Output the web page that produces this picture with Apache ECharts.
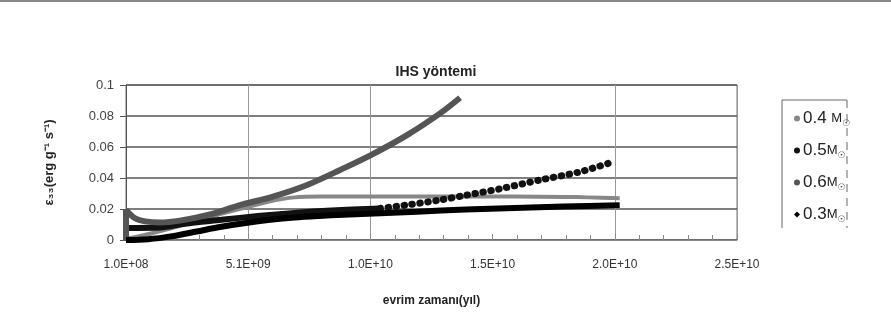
<!DOCTYPE html>
<html>
<head>
    <meta charset="utf-8">
    <title>IHS yöntemi</title>
    <script src="https://cdn.jsdelivr.net/npm/echarts@6/dist/echarts.min.js"></script>
    <style>
        html, body { margin: 0; padding: 0; background: #fff; }
        #main { width: 891px; height: 333px; }
    </style>
</head>
<body>
<div id="main"></div>
<script type="text/javascript">
    // values: [evrim zamanı (yıl), ε33]
    var m04 = [
        [1.0e8, 0.001], [5.0e8, 0.002], [1.2e9, 0.0045], [2.5e9, 0.010], [3.8e9, 0.016],
        [5.0e9, 0.021], [6.0e9, 0.025], [7.0e9, 0.0275], [8.0e9, 0.028], [1.0e10, 0.028],
        [1.2e10, 0.028], [1.4e10, 0.028], [1.6e10, 0.028], [1.8e10, 0.0278], [1.9e10, 0.0275],
        [2.03e10, 0.027]
    ];
    var m05 = [
        [1.0e8, 0.0077], [1.5e9, 0.008], [2.5e9, 0.0105], [4.0e9, 0.013], [5.5e9, 0.0155],
        [7.0e9, 0.0175], [8.5e9, 0.019], [1.05e10, 0.0204], [1.16e10, 0.0226], [1.295e10, 0.0258],
        [1.405e10, 0.029], [1.54e10, 0.033], [1.704e10, 0.0387], [1.868e10, 0.044], [2.0e10, 0.0503]
    ];
    var m06 = [
        [1.0e8, 0.0], [1.0e8, 0.0194], [4.7e8, 0.014], [8.8e8, 0.012], [1.49e9, 0.0113],
        [2.31e9, 0.0125], [3.54e9, 0.0165], [4.76e9, 0.0225], [6.11e9, 0.028], [7.51e9, 0.0355],
        [8.86e9, 0.0452], [1.012e10, 0.0548], [1.16e10, 0.0677], [1.295e10, 0.0817], [1.377e10, 0.0918]
    ];
    var m03 = [
        [1.0e8, 0.0], [1.0e9, 0.0005], [2.0e9, 0.0025], [3.0e9, 0.0055], [4.0e9, 0.0085],
        [5.0e9, 0.011], [6.0e9, 0.013], [7.0e9, 0.0145], [8.0e9, 0.0155], [9.0e9, 0.0163],
        [1.0e10, 0.017], [1.2e10, 0.0183], [1.4e10, 0.0196], [1.6e10, 0.0207], [1.8e10, 0.0216],
        [2.03e10, 0.0225]
    ];
    // 0.5 points are packed into a solid band before this age, separate dots after
    var denseUntil = 1.05e10;

    // 1.0E+08 style labels like excel
    function sci(v) {
        var parts = v.toExponential(1).toUpperCase().split('E');
        var sign = parts[1].charAt(0);
        var digits = parts[1].slice(1);
        if (digits.length < 2) digits = '0' + digits;
        return parts[0] + 'E' + sign + digits;
    }

    var myChart = echarts.init(document.getElementById('main'));

    var option = {
        backgroundColor: '#fff',
        animation: false,
        title: {
            text: 'IHS yöntemi',
            left: 431,
            top: 60,
            textAlign: 'center',
            textStyle: { fontFamily: 'Liberation Sans', fontWeight: 'bold', fontSize: 14, color: '#222' }
        },
        grid: {
            left: 126, top: 85, right: 154, bottom: 93,
            show: true, borderColor: '#777', borderWidth: 1
        },
        legend: {
            orient: 'vertical',
            left: 789,
            top: 105,
            itemWidth: 6,
            itemHeight: 6,
            itemGap: 14,
            data: [
                { name: '0.4', icon: 'circle', itemStyle: { color: '#888' } },
                { name: '0.5', icon: 'circle', itemStyle: { color: '#111' } },
                { name: '0.6', icon: 'circle', itemStyle: { color: '#555' } },
                { name: '0.3', icon: 'diamond', itemStyle: { color: '#000' } }
            ],
            formatter: function (name) {
                var gap = name === '0.4' ? ' ' : '';
                return '{n|' + name + gap + '}{m|M}{s|☉}';
            },
            textStyle: {
                padding: [0, 0, 0, -2],
                rich: {
                    n: { fontFamily: 'Liberation Sans', fontSize: 17, color: '#222' },
                    m: { fontFamily: 'Liberation Sans', fontSize: 13, color: '#222' },
                    s: { fontFamily: 'DejaVu Sans', fontSize: 9, color: '#444', padding: [10, 0, 0, 0] }
                }
            }
        },
        xAxis: {
            type: 'value',
            min: 1.0e8,
            max: 2.51e10,
            interval: 5.0e9,
            name: 'evrim zamanı(yıl)',
            nameLocation: 'middle',
            nameGap: 55,
            nameTextStyle: { fontFamily: 'Liberation Sans', fontWeight: 'bold', fontSize: 12, color: '#222' },
            axisLine: { lineStyle: { color: '#888', width: 1 } },
            axisTick: { inside: true, length: 6, lineStyle: { color: '#888' } },
            minorTick: { show: true, splitNumber: 5, length: 5, lineStyle: { color: '#888' } },
            axisLabel: {
                margin: 19,
                fontFamily: 'Liberation Sans',
                fontSize: 12,
                color: '#333',
                formatter: sci
            },
            splitLine: {
                show: true,
                lineStyle: { color: ['#999', '#999', '#999', 'rgba(0,0,0,0)', '#999', '#999'], width: 1 }
            }
        },
        yAxis: {
            type: 'value',
            min: 0,
            max: 0.1,
            interval: 0.02,
            name: 'ε₃₃(erg g⁻¹ s⁻¹)',
            nameLocation: 'middle',
            nameGap: 70,
            nameRotate: 90,
            nameTextStyle: { fontFamily: 'Liberation Sans', fontWeight: 'bold', fontSize: 13, color: '#222' },
            axisLine: { show: true, lineStyle: { color: '#555', width: 1 } },
            axisTick: { show: true, length: 6, lineStyle: { color: '#555' } },
            axisLabel: { margin: 12, fontFamily: 'Liberation Sans', fontSize: 13, color: '#444' },
            splitLine: { lineStyle: { color: '#555', width: 1.5 } }
        },
        series: [
            {
                name: '0.4', type: 'line', data: m04, symbol: 'none', smooth: 0.3,
                lineStyle: { color: '#888', width: 4 }, itemStyle: { color: '#888' }
            },
            {
                name: '0.5', type: 'line', symbol: 'none', smooth: 0.3,
                data: m05.filter(function (p) { return p[0] <= denseUntil; }),
                lineStyle: { color: '#111', width: 6 }, itemStyle: { color: '#111' }
            },
            {
                name: '0.5', type: 'line', symbol: 'none', smooth: 0.3,
                data: m05.filter(function (p) { return p[0] >= denseUntil; }),
                lineStyle: { color: '#111', width: 7, type: [0.5, 7.5], cap: 'round' },
                itemStyle: { color: '#111' }
            },
            {
                name: '0.6', type: 'line', data: m06, symbol: 'none', smooth: 0.3,
                lineStyle: { color: '#555', width: 6 }, itemStyle: { color: '#555' }
            },
            {
                name: '0.3', type: 'line', data: m03, symbol: 'none', smooth: 0.3,
                lineStyle: { color: '#000', width: 6 }, itemStyle: { color: '#000' }
            }
        ],
        graphic: [
            { type: 'line', shape: { x1: 0, y1: 1, x2: 891, y2: 1 }, style: { stroke: '#888', lineWidth: 2 } },
            { type: 'polyline', shape: { points: [[782, 228], [782, 100], [847, 100]] }, style: { stroke: '#666', lineWidth: 1, fill: null } },
            { type: 'line', shape: { x1: 847, y1: 100, x2: 847, y2: 228 }, style: { stroke: '#666', lineWidth: 1, lineDash: [8, 6] } }
        ]
    };

    myChart.setOption(option);
</script>
</body>
</html>
